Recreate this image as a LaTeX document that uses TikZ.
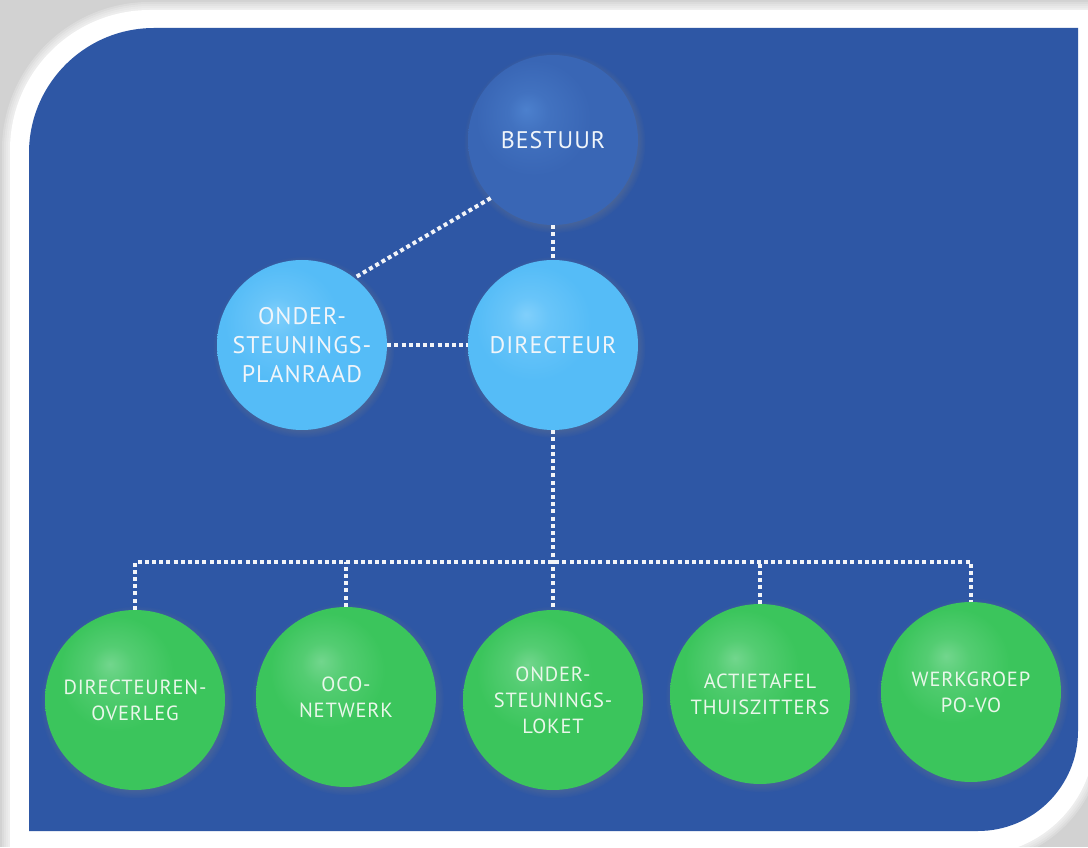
\documentclass[tikz,border=0pt]{standalone}
\usepackage{fontspec}
\setmainfont{PT Sans}[LetterSpace=4]
\usetikzlibrary{shadows}
\definecolor{panel}{HTML}{2E57A5}
\definecolor{bgrey}{HTML}{D2D2D2}
\definecolor{bsbase}{HTML}{3966B5}
\definecolor{bshi}{HTML}{4C80CD}
\definecolor{lbbase}{HTML}{55BCF7}
\definecolor{lbhi}{HTML}{80CFFB}
\definecolor{grbase}{HTML}{3BC55C}
\definecolor{grhi}{HTML}{72D68D}
\colorlet{bsmid}{bshi!45!bsbase}
\colorlet{lbmid}{lbhi!45!lbbase}
\colorlet{grmid}{grhi!45!grbase}
\definecolor{txtb}{HTML}{F0F5FA}
\definecolor{txtg}{HTML}{E9F7EA}
\definecolor{dotcol}{HTML}{F2F4F8}
\pgfdeclareradialshading{sphbs}{\pgfpoint{-8bp}{9bp}}{color(0bp)=(bshi); color(6bp)=(bsmid); color(17bp)=(bsbase); color(60bp)=(bsbase)}
\pgfdeclareradialshading{sphlb}{\pgfpoint{-8bp}{9bp}}{color(0bp)=(lbhi); color(6bp)=(lbmid); color(17bp)=(lbbase); color(60bp)=(lbbase)}
\pgfdeclareradialshading{sphgr}{\pgfpoint{-7bp}{10bp}}{color(0bp)=(grhi); color(6bp)=(grmid); color(16bp)=(grbase); color(60bp)=(grbase)}
\tikzset{
  sph/.style={circle, inner sep=0pt, align=center,
    circular drop shadow={opacity=0.45, shadow scale=1.07, shadow xshift=1.5pt, shadow yshift=-2pt}},
  topnode/.style={sph, minimum size=170pt, font=\fontsize{24}{29}\selectfont, text=txtb},
  botnode/.style={sph, minimum size=180pt, shading=sphgr, font=\fontsize{20.5}{26}\selectfont, text=txtg},
  dotline/.style={draw=dotcol, line width=4pt, dash pattern=on 4pt off 3.2pt}
}
\begin{document}
\begin{tikzpicture}[x=1pt,y=1pt]
\useasboundingbox (0,0) rectangle (1088,847);
% grey background
\fill[bgrey] (0,0) rectangle (1088,847);
% soft edge of the white frame
\foreach \d in {8,6,4,2}{
  \fill[white, opacity=0.22] (10-\d,-8-\d) -- (10-\d,697) arc[start angle=180,end angle=90,radius=140+\d]
    -- (1095+\d,837+\d) -- (1095+\d,112) arc[start angle=0,end angle=-90,radius=120+\d] -- cycle;
}
% white frame
\fill[white] (10,-8) -- (10,697) arc[start angle=180,end angle=90,radius=140]
  -- (1095,837) -- (1095,112) arc[start angle=0,end angle=-90,radius=120] -- cycle;
% blue panel
\fill[panel] (29,16) -- (29,694) arc[start angle=180,end angle=90,radius=125]
  -- (1078,819) -- (1078,116) arc[start angle=0,end angle=-90,radius=100] -- cycle;

% nodes
\node[topnode, shading=sphbs] (bes) at (553,707) {BESTUUR};
\node[topnode, shading=sphlb] (dir) at (553,502) {DIRECTEUR};
\node[topnode, shading=sphlb] (pln) at (302,502) {ONDER-\\STEUNINGS-\\PLANRAAD};
\node[botnode] (ovl) at (135,147) {DIRECTEUREN-\\OVERLEG};
\node[botnode] (oco) at (346,150) {OCO-\\NETWERK};
\node[botnode] (lok) at (553,147) {ONDER-\\STEUNINGS-\\LOKET};
\node[botnode] (act) at (760,153) {ACTIETAFEL\\THUISZITTERS};
\node[botnode] (wrk) at (971,155) {WERKGROEP\\PO-VO};
\coordinate (bus) at (553,285);

% connectors
\draw[dotline] (bes.223) -- (pln.52);
\draw[dotline] (bes.south) -- (dir.north);
\draw[dotline] (pln.east) -- (dir.west);
\draw[dotline] (dir.south) -- (lok.north);
\draw[dotline] (ovl.north) |- (bus) -| (wrk.north);
\draw[dotline] (oco.north) -- (oco.north |- bus);
\draw[dotline] (act.north) -- (act.north |- bus);
\end{tikzpicture}
\end{document}
